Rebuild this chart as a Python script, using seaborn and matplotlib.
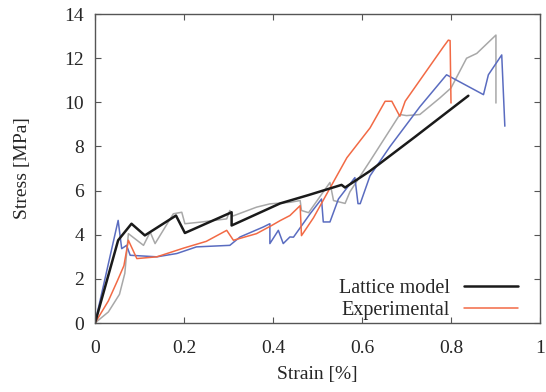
import matplotlib
matplotlib.use("Agg")
import matplotlib.pyplot as plt
import seaborn as sns

sns.set_style("ticks")
plt.rcParams['font.family'] = ['Liberation Serif', 'DejaVu Serif']

# Lattice model
lat_x = [0, 0.052, 0.082, 0.112, 0.182, 0.202, 0.307, 0.307, 0.416, 0.48, 0.554, 0.562, 0.618, 0.72, 0.839]
lat_y = [0, 3.75, 4.5, 3.97, 4.87, 4.08, 5.02, 4.42, 5.42, 5.8, 6.26, 6.14, 6.89, 8.45, 10.3]

# Experimental (orange)
exo_x = [0, 0.03, 0.05, 0.065, 0.075, 0.094, 0.139, 0.2, 0.25, 0.296, 0.311, 0.363, 0.397, 0.416, 0.438, 0.461, 0.464, 0.491, 0.566, 0.618, 0.652, 0.667, 0.685, 0.697, 0.783, 0.794, 0.798, 0.80]
exo_y = [0, 1.0, 1.9, 2.6, 3.75, 2.92, 3.0, 3.4, 3.7, 4.2, 3.75, 4.05, 4.42, 4.64, 4.87, 5.32, 3.96, 4.77, 7.49, 8.84, 10.05, 10.05, 9.37, 10.05, 12.52, 12.82, 12.8, 9.97]

# Experimental (blue)
exb_x = [0, 0.052, 0.06, 0.071, 0.079, 0.139, 0.184, 0.228, 0.303, 0.326, 0.378, 0.393, 0.393, 0.412, 0.423, 0.438, 0.446, 0.483, 0.509, 0.513, 0.528, 0.547, 0.584, 0.591, 0.596, 0.618, 0.663, 0.73, 0.79, 0.873, 0.884, 0.914, 0.921]
exb_y = [0, 4.65, 3.37, 3.52, 3.07, 3.0, 3.15, 3.45, 3.52, 3.9, 4.35, 4.5, 3.6, 4.2, 3.6, 3.9, 3.89, 4.94, 5.62, 4.58, 4.58, 5.62, 6.59, 5.41, 5.41, 6.67, 8.0, 9.8, 11.25, 10.35, 11.25, 12.15, 8.92]

# Experimental (gray)
exg_x = [0, 0.03, 0.055, 0.067, 0.075, 0.109, 0.124, 0.135, 0.176, 0.195, 0.202, 0.236, 0.296, 0.303, 0.31, 0.363, 0.393, 0.438, 0.461, 0.464, 0.48, 0.528, 0.536, 0.562, 0.573, 0.618, 0.685, 0.70, 0.73, 0.775, 0.80, 0.835, 0.858, 0.901, 0.901]
exg_y = [0, 0.5, 1.3, 2.25, 4.05, 3.52, 4.12, 3.6, 4.95, 5.02, 4.5, 4.57, 4.72, 5.1, 4.85, 5.25, 5.4, 5.47, 5.55, 5.1, 5.0, 6.37, 5.55, 5.42, 5.95, 7.34, 9.45, 9.4, 9.45, 10.2, 10.65, 12.0, 12.22, 13.05, 9.97]

fig = plt.figure(figsize=(5.46, 3.92), dpi=100)
ax = fig.add_axes([0.174, 0.176, 0.815, 0.788])

sns.lineplot(x=exg_x, y=exg_y, sort=False, estimator=None, color='#a8a8a8', lw=1.1, ax=ax)
sns.lineplot(x=exb_x, y=exb_y, sort=False, estimator=None, color='#5a6cc0', lw=1.1, ax=ax)
sns.lineplot(x=exo_x, y=exo_y, sort=False, estimator=None, color='#f26a45', lw=1.1, ax=ax, label='Experimental')
sns.lineplot(x=lat_x, y=lat_y, sort=False, estimator=None, color='#1a1a1a', lw=1.8, ax=ax, label='Lattice model')

ax.set_xlim(0, 1)
ax.set_ylim(0, 14)
ax.set_xticks([0, 0.2, 0.4, 0.6, 0.8, 1])
ax.set_xticklabels(['0', '0.2', '0.4', '0.6', '0.8', '1'])
ax.set_yticks(range(0, 15, 2))
ax.tick_params(direction='in', top=True, right=True, labelsize=14, length=4, color='#555555')
ax.tick_params(axis='x', pad=12)
ax.tick_params(axis='y', pad=8)
for s in ax.spines.values():
    s.set_color('#555555')
    s.set_linewidth(1.0)
ax.set_xlabel('Strain [%]', fontsize=14, labelpad=7)
ax.set_ylabel('Stress [MPa]', fontsize=14, labelpad=24)

h, l = ax.get_legend_handles_labels()
ax.legend(h[::-1], l[::-1], loc='lower right', bbox_to_anchor=(0.951, 0.01), frameon=False,
          markerfirst=False, fontsize=14.5, handlelength=2.7, labelspacing=0.12,
          borderpad=0, borderaxespad=0, handletextpad=0.7)

fig.savefig('out.png', dpi=100)
